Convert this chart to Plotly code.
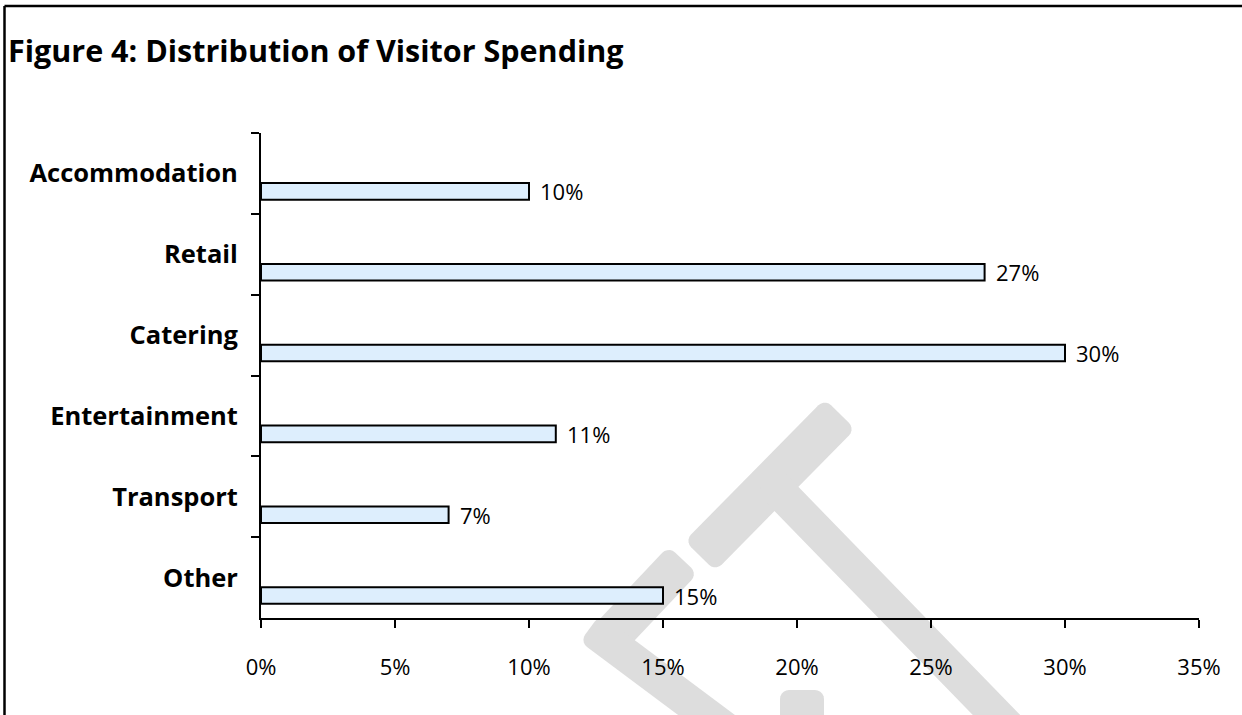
import math
import plotly.graph_objects as go

# ---- data ----
categories = ["Accommodation", "Retail", "Catering", "Entertainment", "Transport", "Other"]
shares = [10, 27, 30, 11, 7, 15]
x_ticks = [0, 5, 10, 15, 20, 25, 30, 35]
x_tick_labels = ["0%", "5%", "10%", "15%", "20%", "25%", "30%", "35%"]
title_text = "Figure 4: Distribution of Visitor Spending"

W, H = 1242, 715
ML, MR, MT, MB = 261, 43, 133, 97
PW, PH = W - ML - MR, H - MT - MB

BAR_OFFSET = 0.12
BAR_WIDTH = 0.205
FONT = "Open Sans"


def px2paper(px, py):
    return (px - ML) / PW, (H - MB - py) / PH


def band_path(p0, p1, w, r=9, n=5):
    """Rounded-corner band (rectangle) along p0->p1, in pixel coords -> paper path."""
    dx, dy = p1[0] - p0[0], p1[1] - p0[1]
    L = math.hypot(dx, dy)
    ux, uy = dx / L, dy / L
    nx, ny = -uy, ux
    h = w / 2
    r = min(r, h, L / 2)
    centers = [(L - r, h - r), (L - r, -h + r), (r, -h + r), (r, h - r)]
    pts = []
    for k in range(4):
        cx, cy = centers[k]
        a0 = [90, 0, -90, -180][k]
        for j in range(n + 1):
            a = math.radians(a0 - 90 * j / n)
            lx = cx + r * math.cos(a)
            ly = cy + r * math.sin(a)
            pts.append((p0[0] + ux * lx + nx * ly, p0[1] + uy * lx + ny * ly))
    path = []
    for j, (x, y) in enumerate(pts):
        qx, qy = px2paper(x, y)
        path.append(("M" if j == 0 else "L") + f"{qx:.5f},{qy:.5f}")
    return " ".join(path) + " Z"


fig = go.Figure()
fig.add_trace(go.Bar(
    y=categories,
    x=shares,
    orientation="h",
    offset=BAR_OFFSET,
    width=BAR_WIDTH,
    marker=dict(color="#DDEEFD", line=dict(color="black", width=2)),
    hoverinfo="skip",
))

annotations = []
for i, (c, v) in enumerate(zip(categories, shares)):
    annotations.append(dict(
        x=v, y=i + BAR_OFFSET + BAR_WIDTH / 2, xref="x", yref="y",
        text=f"{v}%", showarrow=False, xanchor="left", yanchor="middle",
        xshift=9, font=dict(family=FONT, size=22, color="black"),
    ))

shapes = []
# watermark
wm = "#DDDDDD"
for p0, p1, w in [
    ((700, 556), (840, 414), 43),
    ((768, 480), (1050, 770), 34),
    ((683, 560), (598, 650), 40),
    ((590, 628), (740, 740), 34),
    ((802, 690), (802, 760), 44),
]:
    shapes.append(dict(type="path", xref="paper", yref="paper", path=band_path(p0, p1, w),
                       fillcolor=wm, line=dict(width=0), layer="below"))

# outer border (top and left)
x0, y0 = px2paper(4.5, 6)
x1, _ = px2paper(W + 5, 6)
_, y1 = px2paper(4.5, H + 5)
shapes.append(dict(type="line", xref="paper", yref="paper", x0=x0, y0=y0, x1=x1, y1=y0,
                   line=dict(color="black", width=2.5)))
shapes.append(dict(type="line", xref="paper", yref="paper", x0=x0, y0=y0, x1=x0, y1=y1,
                   line=dict(color="black", width=2.5)))

fig.update_layout(
    width=W, height=H,
    margin=dict(l=ML, r=MR, t=MT, b=MB, pad=0),
    paper_bgcolor="white",
    plot_bgcolor="rgba(0,0,0,0)",
    showlegend=False,
    title=dict(text=f"<b>{title_text}</b>", x=8 / W, xanchor="left", y=1 - 51 / H, yanchor="middle",
               xref="container", yref="container", font=dict(family=FONT, size=30.5, color="black")),
    xaxis=dict(
        range=[0, 35], tickmode="array", tickvals=x_ticks, ticktext=x_tick_labels,
        showgrid=False, zeroline=False,
        showline=True, linecolor="black", linewidth=2,
        ticks="outside", ticklen=8, tickwidth=2, tickcolor="black",
        tickfont=dict(family=FONT, size=22, color="black"), ticklabelstandoff=21,
    ),
    yaxis=dict(
        type="category", categoryorder="array", categoryarray=categories,
        range=[5.5, -0.5], showgrid=False, zeroline=False,
        showline=True, linecolor="black", linewidth=2,
        ticks="outside", ticklen=8, tickwidth=2, tickcolor="black", tickson="boundaries",
        tickfont=dict(family=FONT, size=25.5, color="black"), ticklabelstandoff=16,
        tickprefix="<b>", ticksuffix="</b>",
    ),
    annotations=annotations,
    shapes=shapes,
)

fig.write_html("out.html")
